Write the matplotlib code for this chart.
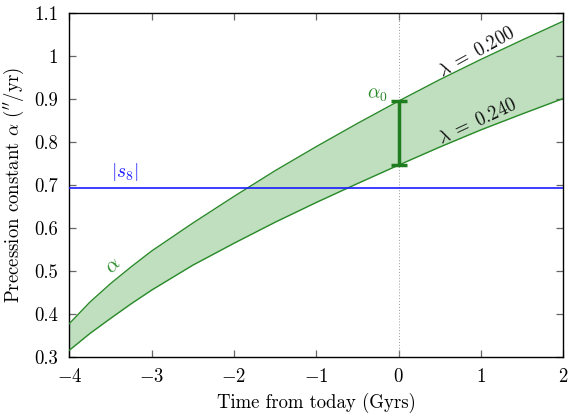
import matplotlib
matplotlib.use("Agg")
import matplotlib.pyplot as plt

plt.rcParams['font.family'] = 'serif'
plt.rcParams['font.serif'] = ['cmr10']
plt.rcParams['mathtext.fontset'] = 'cm'
plt.rcParams['axes.formatter.use_mathtext'] = True
plt.rcParams['axes.unicode_minus'] = True

# Data
time_gyr = [-4, -3.75, -3.5, -3.25, -3, -2.5, -2, -1.5, -1, -0.5, 0, 0.5, 1, 1.5, 2]
alpha_lam200 = [0.377, 0.427, 0.470, 0.509, 0.546, 0.611, 0.673, 0.733, 0.789, 0.843, 0.895, 0.945, 0.992, 1.037, 1.081]
alpha_lam240 = [0.315, 0.354, 0.389, 0.423, 0.455, 0.513, 0.564, 0.613, 0.659, 0.703, 0.746, 0.788, 0.828, 0.865, 0.901]
s8_value = 0.692
alpha0_time = 0
alpha0_low = 0.747
alpha0_high = 0.895
xticks = [-4, -3, -2, -1, 0, 1, 2]
yticks = [0.3, 0.4, 0.5, 0.6, 0.7, 0.8, 0.9, 1.0, 1.1]
yticklabels = ['0.3', '0.4', '0.5', '0.6', '0.7', '0.8', '0.9', '1', '1.1']

green = '#2a8a2a'
fill_green = '#bfdfbf'
dark_green = '#1e7d1e'

fig = plt.figure(figsize=(5.81, 4.15), dpi=100)
ax = fig.add_axes([0.1193, 0.1405, 0.8502, 0.8282])

ax.fill_between(time_gyr, alpha_lam240, alpha_lam200, color=fill_green, lw=0, zorder=1)
ax.plot(time_gyr, alpha_lam200, color=green, lw=1.0, zorder=3)
ax.plot(time_gyr, alpha_lam240, color=green, lw=1.0, zorder=3)
ax.axhline(s8_value, color='#1a1aff', lw=1.2, zorder=4)
ax.axvline(0, color='#999999', lw=0.7, ls=(0, (1, 2)), zorder=2)

mid = (alpha0_low + alpha0_high) / 2
ax.errorbar([alpha0_time], [mid], yerr=[[mid - alpha0_low], [alpha0_high - mid]],
            fmt='none', ecolor=dark_green, elinewidth=2.5, capsize=6, capthick=2.5, zorder=5)

ax.text(-3.47, 0.51, r'$\alpha$', color=green, fontsize=15, rotation=45,
        ha='center', va='center')
ax.text(-0.26, 0.908, r'$\alpha_0$', color=green, fontsize=14, ha='center', va='center')
ax.text(-3.33, 0.729, r'$|s_8|$', color='#1a1aff', fontsize=14, ha='center', va='center')
ax.text(0.95, 1.008, r'$\lambda\;=\;0.200$', color='#111111', fontsize=13.5, rotation=29,
        ha='center', va='center', rotation_mode='anchor')
ax.text(0.96, 0.848, r'$\lambda\;=\;0.240$', color='#111111', fontsize=13.5, rotation=25,
        ha='center', va='center', rotation_mode='anchor')

ax.set_xlim(-4, 2)
ax.set_ylim(0.3, 1.1)
ax.set_xticks(xticks)
ax.set_yticks(yticks)
ax.set_yticklabels(yticklabels)
ax.tick_params(direction='in', top=True, right=True, length=5, width=0.9,
               color='#666666', labelsize=13.5, pad=8)
for s in ax.spines.values():
    s.set_linewidth(1.0)
    s.set_color('black')

ax.set_xlabel('Time from today (Gyrs)', fontsize=13.5, labelpad=5)
ax.set_ylabel(r"Precession constant $\alpha$ ($''$/yr)", fontsize=13.5, labelpad=6)

fig.savefig('out.png', dpi=100)
